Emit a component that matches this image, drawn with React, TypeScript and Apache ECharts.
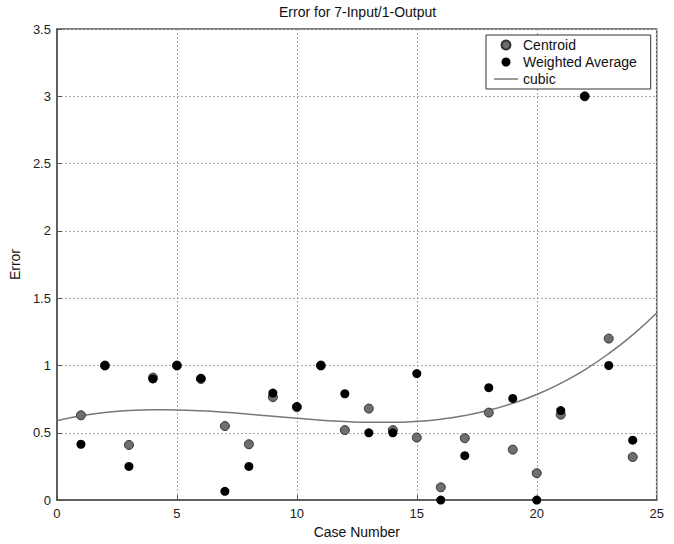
import React, { useEffect, useRef } from "react";
import * as echarts from "echarts";

const caseNumbers = [1, 2, 3, 4, 5, 6, 7, 8, 9, 10, 11, 12, 13, 14, 15, 16, 17, 18, 19, 20, 21, 22, 23, 24];
const centroid = [0.63, 1.0, 0.41, 0.91, 1.0, 0.9, 0.55, 0.415, 0.765, 0.69, 1.0, 0.52, 0.68, 0.52, 0.465, 0.095, 0.46, 0.65, 0.375, 0.2, 0.635, 3.0, 1.2, 0.32];
const weighted = [0.415, 1.0, 0.25, 0.9, 1.0, 0.905, 0.065, 0.25, 0.795, 0.695, 1.0, 0.79, 0.5, 0.5, 0.94, 0.0, 0.33, 0.835, 0.755, 0.0, 0.665, 3.0, 1.0, 0.445];
const cubicX = [0, 1, 2, 3, 4, 5, 6, 7, 8, 9, 10, 11, 12, 13, 14, 15, 16, 17, 18, 19, 20, 21, 22, 23, 24, 25];
const cubicY = [0.59, 0.626, 0.651, 0.665, 0.671, 0.67, 0.663, 0.652, 0.638, 0.623, 0.608, 0.594, 0.584, 0.578, 0.578, 0.585, 0.601, 0.628, 0.667, 0.719, 0.785, 0.868, 0.968, 1.088, 1.228, 1.39];

const FONT = "'Liberation Sans', Arial, sans-serif";

export default function App() {
  const ref = useRef<HTMLDivElement>(null);
  useEffect(() => {
    if (!ref.current) return;
    const chart = echarts.init(ref.current, null, { renderer: "svg" });
    const axisText = { color: "#222", fontSize: 13, fontFamily: FONT };
    chart.setOption({
      animation: false,
      backgroundColor: "#fff",
      title: {
        text: "Error for 7-Input/1-Output",
        left: 279,
        top: 5,
        padding: 0,
        textStyle: { fontSize: 14, fontWeight: "normal", color: "#111", fontFamily: FONT },
      },
      grid: {
        left: 56.7,
        right: 17.3,
        top: 29,
        bottom: 40.7,
        show: true,
        borderColor: "#555",
        borderWidth: 1.5,
        backgroundColor: "transparent",
      },
      legend: {
        orient: "vertical",
        left: 486,
        top: 35,
        padding: [3, 13, 3, 8],
        itemGap: 3,
        itemWidth: 24,
        itemHeight: 9,
        borderColor: "#333",
        borderWidth: 1,
        backgroundColor: "#fff",
        textStyle: { fontSize: 14, color: "#111", fontFamily: FONT, lineHeight: 14 },
        data: [
          { name: "Centroid", icon: "circle" },
          { name: "Weighted Average", icon: "circle" },
          { name: "cubic", icon: "path://M0,0H24V1.5H0Z", itemStyle: { color: "#777" } },
        ],
      },
      xAxis: {
        type: "value",
        min: 0,
        max: 25,
        interval: 5,
        name: "Case Number",
        nameLocation: "middle",
        nameGap: 22,
        nameTextStyle: { fontSize: 14, color: "#111", fontFamily: FONT },
        axisLine: { show: true, onZero: false, lineStyle: { color: "#555", width: 1.5 } },
        axisTick: { show: true, inside: true, length: 5, lineStyle: { color: "#555" } },
        axisLabel: { ...axisText, margin: 7 },
        splitLine: { show: true, lineStyle: { color: "#aaa", type: [2, 2], width: 1 } },
      },
      yAxis: {
        type: "value",
        min: 0,
        max: 3.5,
        interval: 0.5,
        name: "Error",
        nameLocation: "middle",
        nameGap: 27,
        nameTextStyle: { fontSize: 14, color: "#111", fontFamily: FONT },
        axisLine: { show: true, onZero: false, lineStyle: { color: "#555", width: 1.5 } },
        axisTick: { show: true, inside: true, length: 5, lineStyle: { color: "#555" } },
        axisLabel: { ...axisText, margin: 6 },
        splitLine: { show: true, lineStyle: { color: "#aaa", type: [2, 2], width: 1 } },
      },
      series: [
        {
          name: "cubic",
          type: "line",
          data: cubicX.map((x, i) => [x, cubicY[i]]),
          smooth: true,
          showSymbol: false,
          symbol: "none",
          lineStyle: { color: "#777", width: 1.5 },
          itemStyle: { color: "#777" },
          z: 2,
        },
        {
          name: "Centroid",
          type: "scatter",
          data: caseNumbers.map((x, i) => [x, centroid[i]]),
          symbol: "circle",
          symbolSize: 9,
          itemStyle: { color: "#6e6e6e", borderColor: "#333", borderWidth: 1, opacity: 1 },
          z: 3,
        },
        {
          name: "Weighted Average",
          type: "scatter",
          data: caseNumbers.map((x, i) => [x, weighted[i]]),
          symbol: "circle",
          symbolSize: 9,
          itemStyle: { color: "#000", opacity: 1 },
          z: 4,
        },
      ],
    });
    return () => chart.dispose();
  }, []);
  return (
    <div
      ref={ref}
      style={{ position: "fixed", left: 0, top: 0, width: 674, height: 544 }}
    />
  );
}
